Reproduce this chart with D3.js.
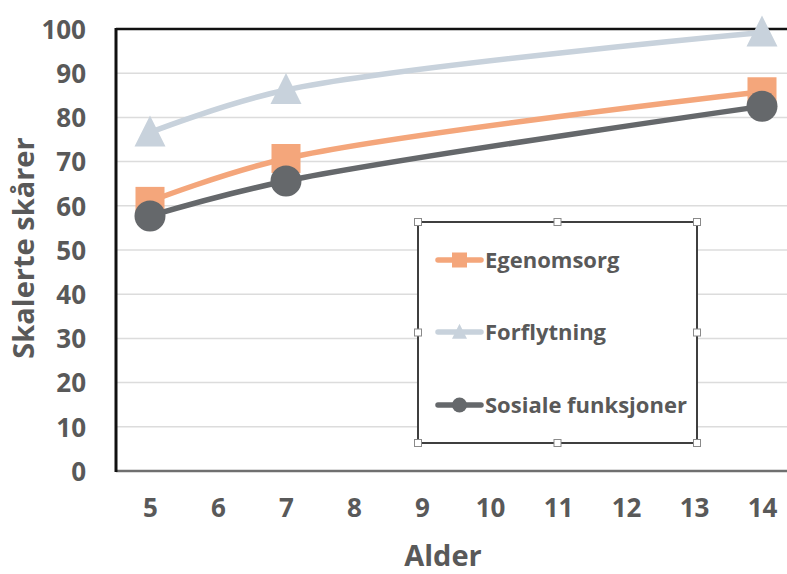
<!DOCTYPE html>
<html>
<head>
<meta charset="utf-8">
<script src="https://cdn.jsdelivr.net/npm/d3@7"></script>
<style>
  html, body { margin: 0; padding: 0; background: #fff; }
  svg { display: block; }
  text { font-family: "Open Sans", sans-serif; font-weight: 700; fill: #595959; }
</style>
</head>
<body>
<svg id="chart" width="787" height="574"></svg>
<script>
// ---- data ----
const ages = ["5", "6", "7", "8", "9", "10", "11", "12", "13", "14"];
const measuredAges = ["5", "7", "14"];
const egenomsorg = [61, 70.7, 85.8];
const forflytning = [76.6, 86.2, 99.2];
const sosiale = [57.7, 65.6, 82.5];
const yTicks = [0, 10, 20, 30, 40, 50, 60, 70, 80, 90, 100];
const seriesNames = ["Egenomsorg", "Forflytning", "Sosiale funksjoner"];

const series = [
  { name: seriesNames[1], values: forflytning, color: "#C8D2DC", marker: "triangle" },
  { name: seriesNames[0], values: egenomsorg, color: "#F4A67B", marker: "square" },
  { name: seriesNames[2], values: sosiale, color: "#65686B", marker: "circle" }
];

const svg = d3.select("#chart");
const pLeft = 116, pTop = 29, pBottom = 471, pRight = 796;

const x = d3.scalePoint().domain(ages).range([pLeft, pRight]).padding(0.5);
const y = d3.scaleLinear().domain([0, 100]).range([pBottom, pTop]);

// gridlines
svg.append("g").selectAll("line")
  .data(yTicks.filter(d => d > 0 && d < 100))
  .join("line")
  .attr("x1", pLeft).attr("x2", 787)
  .attr("y1", d => y(d)).attr("y2", d => y(d))
  .attr("stroke", "#dcdcdc").attr("stroke-width", 1.5);

// top border
svg.append("line").attr("x1", pLeft).attr("x2", 787)
  .attr("y1", y(100)).attr("y2", y(100))
  .attr("stroke", "#111").attr("stroke-width", 2.5);

// bottom axis
svg.append("line").attr("x1", pLeft).attr("x2", 787)
  .attr("y1", y(0)).attr("y2", y(0))
  .attr("stroke", "#6f6f6f").attr("stroke-width", 2.5);

// left axis line
svg.append("line").attr("x1", pLeft).attr("x2", pLeft)
  .attr("y1", y(100) - 1).attr("y2", y(0) + 1)
  .attr("stroke", "#111").attr("stroke-width", 3);

// y axis ticks
const yAxis = d3.axisLeft(y).tickValues(yTicks).tickSize(0).tickPadding(0);
const gy = svg.append("g").attr("transform", "translate(86,0)").call(yAxis);
gy.select(".domain").remove();
gy.selectAll("text").attr("font-size", 26).attr("fill", "#595959")
  .style("font-family", '"Open Sans", sans-serif').style("font-weight", 700)
  .attr("dy", "0.36em");

// x axis ticks
const xAxis = d3.axisBottom(x).tickSize(0).tickPadding(0);
const gx = svg.append("g").attr("transform", "translate(0,499)").call(xAxis);
gx.select(".domain").remove();
gx.selectAll("text").attr("font-size", 26).attr("fill", "#595959")
  .style("font-family", '"Open Sans", sans-serif').style("font-weight", 700);

// axis titles
svg.append("text").attr("x", 443).attr("y", 566).attr("text-anchor", "middle")
  .attr("font-size", 29).text("Alder");
svg.append("text").attr("transform", "translate(34,248) rotate(-90)")
  .attr("text-anchor", "middle").attr("font-size", 29).text("Skalerte skårer");

// marker drawing
function drawMarker(g, type, cx, cy, size, color) {
  if (type === "square") {
    g.append("rect").attr("x", cx - size / 2).attr("y", cy - size / 2)
      .attr("width", size).attr("height", size).attr("fill", color);
  } else if (type === "circle") {
    g.append("circle").attr("cx", cx).attr("cy", cy).attr("r", size / 2).attr("fill", color);
  } else {
    const h = size;
    g.append("path").attr("d",
      `M${cx},${cy - h * 0.55} L${cx + size / 2},${cy + h * 0.45} L${cx - size / 2},${cy + h * 0.45} Z`)
      .attr("fill", color);
  }
}

const line = d3.line().x(d => x(d[0])).y(d => y(d[1])).curve(d3.curveCatmullRom.alpha(0.5));

const plot = svg.append("g");
series.forEach(s => {
  const pts = measuredAges.map((a, i) => [a, s.values[i]]);
  plot.append("path").datum(pts).attr("d", line)
    .attr("fill", "none").attr("stroke", s.color).attr("stroke-width", 5.5)
    .attr("stroke-linecap", "round");
  const sz = s.marker === "square" ? 29 : 31;
  pts.forEach(p => drawMarker(plot, s.marker, x(p[0]), y(p[1]), sz, s.color));
});

// legend
const lg = svg.append("g");
const lx0 = 418, ly0 = 222, lx1 = 697, ly1 = 443;
lg.append("rect").attr("x", lx0).attr("y", ly0).attr("width", lx1 - lx0).attr("height", ly1 - ly0)
  .attr("fill", "#fff").attr("stroke", "#3f3f3f").attr("stroke-width", 2);
const legendOrder = [series[1], series[0], series[2]];
const legendY = [260, 332, 405];
legendOrder.forEach((s, i) => {
  const cy = legendY[i];
  lg.append("line").attr("x1", 438).attr("x2", 481).attr("y1", cy).attr("y2", cy)
    .attr("stroke", s.color).attr("stroke-width", 5.5).attr("stroke-linecap", "round");
  drawMarker(lg, s.marker, 459.5, cy, 15, s.color);
  lg.append("text").attr("x", 485).attr("y", cy).attr("dy", "0.36em")
    .attr("font-size", 22).text(s.name);
});
// selection handles
const hx = [lx0, (lx0 + lx1) / 2, lx1];
const hy = [ly0, (ly0 + ly1) / 2, ly1];
const handles = [];
hx.forEach((a, i) => hy.forEach((b, j) => { if (!(i === 1 && j === 1)) handles.push([a, b]); }));
lg.selectAll("rect.h").data(handles).join("rect").attr("class", "h")
  .attr("x", d => d[0] - 3.5).attr("y", d => d[1] - 3.5).attr("width", 7).attr("height", 7)
  .attr("fill", "#fff").attr("stroke", "#8a8a8a").attr("stroke-width", 1);
</script>
</body>
</html>
